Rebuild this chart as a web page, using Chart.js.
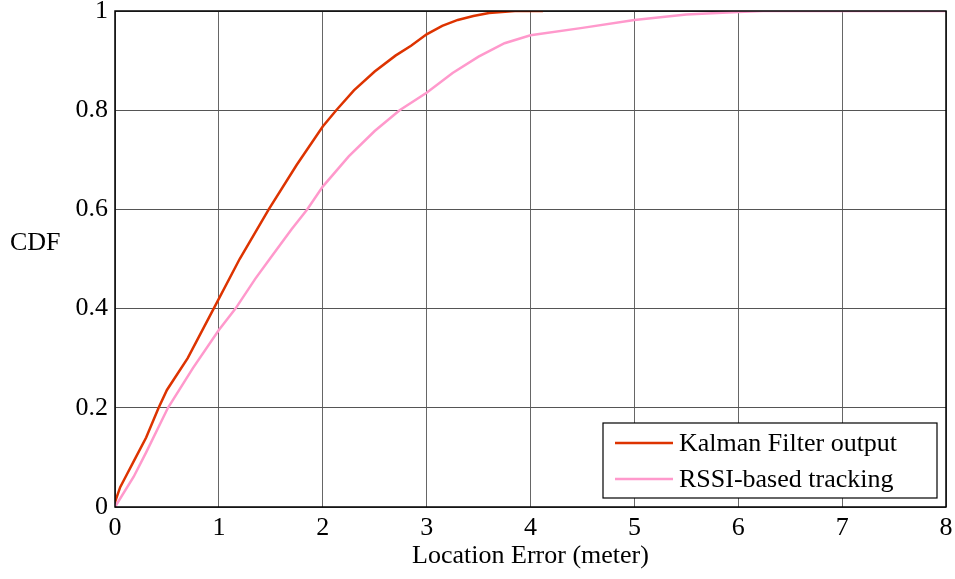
<!DOCTYPE html>
<html lang="en">
<head>
    <meta charset="UTF-8">
    <title>CDF of location error</title>
    <style>
        body {
            margin: 0;
            background: #fff;
        }
        .chart-container {
            width: 955px;
            height: 579px;
        }
    </style>
    <script src="https://cdn.jsdelivr.net/npm/chart.js"></script>
</head>
<body>
    <div class="chart-container">
        <canvas id="cdfChart"></canvas>
    </div>

    <script>
        // values
        const kalmanX = [0, 0.05, 0.1, 0.2, 0.3, 0.42, 0.5, 0.7, 0.95, 1.2, 1.48, 1.75, 2.0, 2.13, 2.3, 2.5, 2.7, 2.85, 3.0, 3.15, 3.3, 3.45, 3.6, 3.85, 4.12];
        const kalmanY = [0.01, 0.04, 0.06, 0.1, 0.14, 0.2, 0.236, 0.3, 0.4, 0.5, 0.6, 0.69, 0.767, 0.8, 0.84, 0.878, 0.91, 0.93, 0.953, 0.97, 0.982, 0.99, 0.996, 1.0, 1.0];
        const rssiX = [0, 0.18, 0.3, 0.51, 0.75, 1.0, 1.16, 1.35, 1.5, 1.7, 1.85, 2.0, 2.25, 2.5, 2.74, 3.0, 3.25, 3.5, 3.75, 4.0, 4.5, 5.0, 5.5, 6.0, 6.24, 8.0];
        const rssiY = [0, 0.061, 0.11, 0.2, 0.28, 0.357, 0.4, 0.46, 0.503, 0.56, 0.6, 0.646, 0.707, 0.758, 0.8, 0.835, 0.875, 0.908, 0.935, 0.951, 0.966, 0.982, 0.993, 0.998, 1.0, 1.0];
        const seriesNames = ['Kalman Filter output', 'RSSI-based tracking'];
        const xTicks = [0, 1, 2, 3, 4, 5, 6, 7, 8];
        const yTicks = [0, 0.2, 0.4, 0.6, 0.8, 1];

        const serif = '"Liberation Serif", "Times New Roman", serif';
        const pts = (xs, ys) => xs.map((x, i) => ({ x: x, y: ys[i] }));

        // axes box, horizontal "CDF" label and boxed legend
        const extras = {
            id: 'extras',
            afterDraw(chart) {
                const ctx = chart.ctx;
                const a = chart.chartArea;
                ctx.save();
                ctx.strokeStyle = '#000';
                ctx.lineWidth = 1.5;
                ctx.strokeRect(a.left, a.top, a.right - a.left, a.bottom - a.top);

                ctx.fillStyle = '#000';
                ctx.font = '26px ' + serif;
                ctx.textAlign = 'left';
                ctx.textBaseline = 'middle';
                ctx.fillText('CDF', 10, 243);

                const bx = 603, by = 423, bw = 334, bh = 75;
                ctx.fillStyle = '#fff';
                ctx.fillRect(bx, by, bw, bh);
                ctx.lineWidth = 1.2;
                ctx.strokeRect(bx, by, bw, bh);
                chart.data.datasets.forEach((ds, i) => {
                    const y = by + 20 + i * 36;
                    ctx.strokeStyle = ds.borderColor;
                    ctx.lineWidth = 2.5;
                    ctx.beginPath();
                    ctx.moveTo(615, y);
                    ctx.lineTo(673, y);
                    ctx.stroke();
                    ctx.fillStyle = '#000';
                    ctx.fillText(ds.label, 679, y + 1);
                });
                ctx.restore();
            }
        };

        const ctx = document.getElementById('cdfChart').getContext('2d');
        new Chart(ctx, {
            type: 'line',
            data: {
                datasets: [
                    {
                        label: seriesNames[0],
                        data: pts(kalmanX, kalmanY),
                        borderColor: '#dd3300',
                        borderWidth: 2.5,
                        pointRadius: 0,
                        tension: 0,
                        fill: false
                    },
                    {
                        label: seriesNames[1],
                        data: pts(rssiX, rssiY),
                        borderColor: '#ff99cc',
                        borderWidth: 2.5,
                        pointRadius: 0,
                        tension: 0,
                        fill: false
                    }
                ]
            },
            options: {
                responsive: true,
                maintainAspectRatio: false,
                animation: false,
                layout: { padding: { top: 11, right: 9, left: 0, bottom: 0 } },
                plugins: {
                    legend: { display: false },
                    tooltip: { enabled: false }
                },
                scales: {
                    x: {
                        type: 'linear',
                        min: 0,
                        max: 8,
                        afterBuildTicks: (scale) => { scale.ticks = xTicks.map(v => ({ value: v })); },
                        afterFit: (scale) => {
                            scale.height = 72;
                            scale.paddingLeft = 0;
                            scale.paddingRight = 0;
                        },
                        grid: { color: '#666', lineWidth: 1, drawTicks: false },
                        border: { display: false },
                        ticks: {
                            color: '#000',
                            padding: 6,
                            maxRotation: 0,
                            font: { family: serif, size: 26 }
                        },
                        title: {
                            display: true,
                            text: 'Location Error (meter)',
                            color: '#000',
                            padding: { top: 0, bottom: 7 },
                            font: { family: serif, size: 26 }
                        }
                    },
                    y: {
                        min: 0,
                        max: 1,
                        afterBuildTicks: (scale) => { scale.ticks = yTicks.map(v => ({ value: v })); },
                        afterFit: (scale) => {
                            scale.width = 115;
                            scale.paddingTop = 0;
                            scale.paddingBottom = 0;
                        },
                        grid: { color: '#555', lineWidth: 1, drawTicks: false },
                        border: { display: false },
                        ticks: {
                            color: '#000',
                            padding: 7,
                            font: { family: serif, size: 26 },
                            callback: (v) => String(v)
                        }
                    }
                }
            },
            plugins: [extras]
        });
    </script>
</body>
</html>
